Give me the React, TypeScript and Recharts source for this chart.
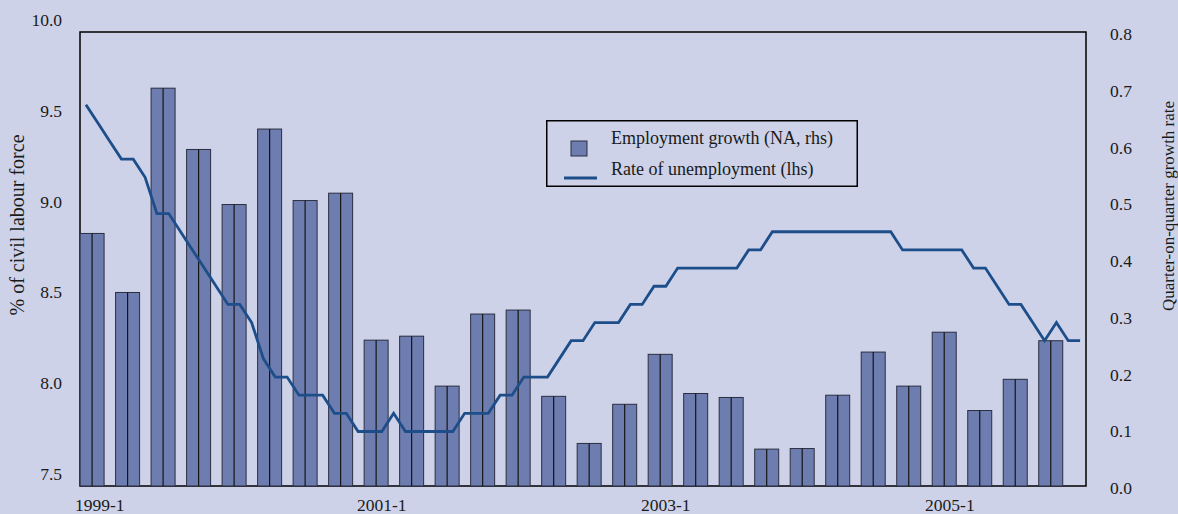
import React from 'react';
import {
  ComposedChart,
  Bar,
  Line,
  XAxis,
  YAxis,
  ReferenceArea,
  Legend,
  Label,
} from 'recharts';

// quarterly employment growth (right axis), 1999-1 .. 2005-4
const quarters = [
  '1999-1', '1999-2', '1999-3', '1999-4',
  '2000-1', '2000-2', '2000-3', '2000-4',
  '2001-1', '2001-2', '2001-3', '2001-4',
  '2002-1', '2002-2', '2002-3', '2002-4',
  '2003-1', '2003-2', '2003-3', '2003-4',
  '2004-1', '2004-2', '2004-3', '2004-4',
  '2005-1', '2005-2', '2005-3', '2005-4',
];
const employmentGrowth = [
  0.445, 0.341, 0.701, 0.593, 0.496, 0.629, 0.503, 0.516,
  0.257, 0.264, 0.176, 0.303, 0.31, 0.158, 0.075, 0.144,
  0.232, 0.163, 0.156, 0.065, 0.066, 0.16, 0.236, 0.176,
  0.271, 0.133, 0.188, 0.256,
];

// monthly unemployment rate (left axis), Jan 1999 .. Jan 2006
const unemploymentRate = [
  9.6, 9.5, 9.4, 9.3, 9.3, 9.2, 9.0, 9.0, 8.9, 8.8, 8.7, 8.6,
  8.5, 8.5, 8.4, 8.2, 8.1, 8.1, 8.0, 8.0, 8.0, 7.9, 7.9, 7.8,
  7.8, 7.8, 7.9, 7.8, 7.8, 7.8, 7.8, 7.8, 7.9, 7.9, 7.9, 8.0,
  8.0, 8.1, 8.1, 8.1, 8.2, 8.3, 8.3, 8.4, 8.4, 8.4, 8.5, 8.5,
  8.6, 8.6, 8.7, 8.7, 8.7, 8.7, 8.7, 8.7, 8.8, 8.8, 8.9, 8.9,
  8.9, 8.9, 8.9, 8.9, 8.9, 8.9, 8.9, 8.9, 8.9, 8.8, 8.8, 8.8,
  8.8, 8.8, 8.8, 8.7, 8.7, 8.6, 8.5, 8.5, 8.4, 8.3, 8.4, 8.3,
  8.3,
];

const rateTicks = [7.5, 8.0, 8.5, 9.0, 9.5, 10.0];
const growthTicks = [0, 0.1, 0.2, 0.3, 0.4, 0.5, 0.6, 0.7, 0.8];
const xTickLabels = ['1999-1', '2001-1', '2003-1', '2005-1'];

const barData = quarters.map((quarter, q) => ({ quarter, q, growth: employmentGrowth[q] }));
const lineData = unemploymentRate.map((rate, m) => ({ m, rate }));
// month index of the middle month of each labelled quarter
const xTicks = xTickLabels.map((l) => quarters.indexOf(l) * 3 + 1);

const BG = '#cdd2e8';
const BAR_FILL = '#6e7db0';
const LINE_COLOR = '#1d4e8a';
const FONT = '"Liberation Serif", "Times New Roman", serif';
const TEXT = '#1a1a1a';

const SplitBar = (props: any) => {
  const { x, y, width, height } = props;
  if (!height || height <= 0) return null;
  const mid = x + width / 2;
  return (
    <g>
      <rect x={x} y={y} width={width} height={height} fill={BAR_FILL} stroke="#2b2e40" strokeWidth={1} />
      <line x1={mid} y1={y} x2={mid} y2={y + height} stroke="#151515" strokeWidth={1.2} />
    </g>
  );
};

const LeftTick = ({ x, y, payload }: any) => (
  <text x={x} y={y - 6} textAnchor="end" fontFamily={FONT} fontSize={17.5} fill={TEXT}>
    {Number(payload.value).toFixed(1)}
  </text>
);

const RightTick = ({ x, y, payload }: any) => (
  <text x={x} y={y + 8} textAnchor="start" fontFamily={FONT} fontSize={17.5} fill={TEXT}>
    {Number(payload.value).toFixed(1)}
  </text>
);

const BottomTick = ({ x, y, payload, index }: any) => (
  <text x={x + (index === 0 ? 2 : 0)} y={y + 25} textAnchor="middle" fontFamily={FONT} fontSize={17.5} fill={TEXT}>
    {quarters[(payload.value - 1) / 3]}
  </text>
);

const renderLegend = () => (
  <svg width={312} height={67} style={{ display: 'block' }}>
    <rect x={0.75} y={0.75} width={310.5} height={65.5} fill="none" stroke="#000" strokeWidth={1.5} />
    <rect x={25} y={21} width={16} height={15} fill={BAR_FILL} stroke="#2b2e40" strokeWidth={1} />
    <text x={65} y={24} fontFamily={FONT} fontSize={18} fill={TEXT}>
      Employment growth (NA, rhs)
    </text>
    <line x1={18} y1={58} x2={51} y2={58} stroke={LINE_COLOR} strokeWidth={3} />
    <text x={65} y={55} fontFamily={FONT} fontSize={18} fill={TEXT}>
      Rate of unemployment (lhs)
    </text>
  </svg>
);

export default function App() {
  return (
    <div style={{ width: 1178, height: 514, background: BG }}>
      <style>{'body{margin:0}'}</style>
      <ComposedChart
        width={1178}
        height={514}
        data={barData}
        margin={{ top: 32, right: 0, bottom: 0, left: 0 }}
      >
        <XAxis
          xAxisId="q"
          dataKey="q"
          type="number"
          domain={[-1 / 3, 28]}
          allowDataOverflow
          hide
        />
        <XAxis
          xAxisId="m"
          dataKey="m"
          type="number"
          domain={[-0.5, 84.5]}
          allowDataOverflow
          ticks={xTicks}
          interval={0}
          height={28}
          axisLine={false}
          tickLine={false}
          tickSize={0}
          tickMargin={0}
          tick={<BottomTick />}
        />
        <YAxis
          yAxisId="left"
          orientation="left"
          domain={[7.5, 10]}
          ticks={rateTicks}
          interval={0}
          width={80}
          axisLine={false}
          tickLine={false}
          tickSize={0}
          tickMargin={18}
          tick={<LeftTick />}
        >
          <Label
            content={(p: any) => {
              const vb = p.viewBox || { x: 0, y: 32, width: 80, height: 454 };
              return (
                <text
                  transform={`translate(${vb.x + 17}, ${vb.y + vb.height / 2 - 34}) rotate(-90)`}
                  textAnchor="middle"
                  dominantBaseline="central"
                  fontFamily={FONT}
                  fontSize={20}
                  fill={TEXT}
                >
                  % of civil labour force
                </text>
              );
            }}
          />
        </YAxis>
        <YAxis
          yAxisId="right"
          orientation="right"
          domain={[0, 0.8]}
          ticks={growthTicks}
          interval={0}
          width={92}
          axisLine={false}
          tickLine={false}
          tickSize={0}
          tickMargin={24}
          tick={<RightTick />}
        >
          <Label
            content={(p: any) => {
              const vb = p.viewBox || { x: 1086, y: 32, width: 92, height: 454 };
              return (
                <text
                  transform={`translate(${vb.x + 82}, ${vb.y + vb.height / 2 - 53}) rotate(-90)`}
                  textAnchor="middle"
                  dominantBaseline="central"
                  fontFamily={FONT}
                  fontSize={17}
                  fill={TEXT}
                >
                  Quarter-on-quarter growth rate
                </text>
              );
            }}
          />
        </YAxis>
        <Bar
          xAxisId="q"
          yAxisId="right"
          dataKey="growth"
          name="Employment growth (NA, rhs)"
          barSize={24}
          shape={<SplitBar />}
          isAnimationActive={false}
        />
        <Line
          xAxisId="m"
          yAxisId="left"
          data={lineData}
          dataKey="rate"
          name="Rate of unemployment (lhs)"
          type="linear"
          stroke={LINE_COLOR}
          strokeWidth={2.8}
          dot={false}
          activeDot={false}
          isAnimationActive={false}
        />
        <ReferenceArea
          xAxisId="m"
          yAxisId="left"
          x1={-0.5}
          x2={84.5}
          y1={7.5}
          y2={10}
          fill="none"
          fillOpacity={0}
          stroke="#000"
          strokeWidth={1.5}
          ifOverflow="visible"
        />
        <Legend
          layout="horizontal"
          align="center"
          verticalAlign="middle"
          content={renderLegend}
          wrapperStyle={{ left: 546, top: 120, width: 312, height: 67 }}
        />
      </ComposedChart>
    </div>
  );
}
